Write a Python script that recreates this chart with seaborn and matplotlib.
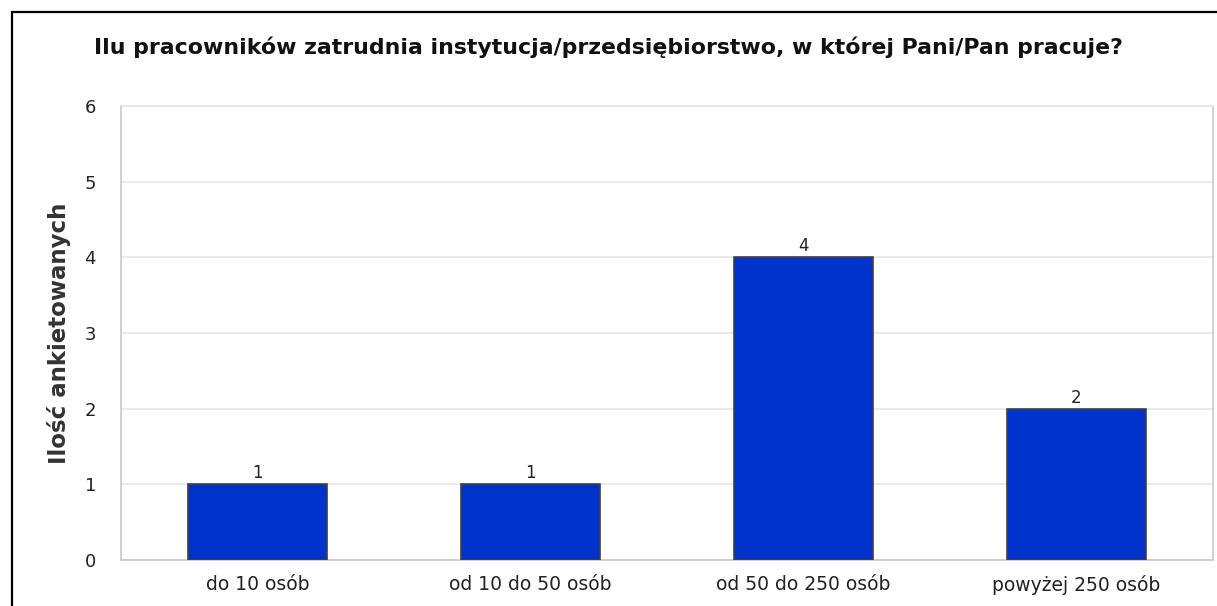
import numpy as np
import pandas as pd
import matplotlib
matplotlib.use("Agg")
import matplotlib.pyplot as plt
import seaborn as sns
from matplotlib.patches import Rectangle

categories = ["do 10 osób", "od 10 do 50 osób", "od 50 do 250 osób", "powyżej 250 osób"]
counts = [1, 1, 4, 2]
y_ticks = [0, 1, 2, 3, 4, 5, 6]

df = pd.DataFrame({"kategoria": categories, "ilosc": counts})

sns.set_theme(style="white")
plt.rcParams['font.family'] = ['DejaVu Sans']

fig = plt.figure(figsize=(12.17, 6.06), dpi=100)
ax = fig.add_axes([121 / 1217, 46 / 606, (1213 - 121) / 1217, (560 - 106) / 606])

sns.barplot(x="kategoria", y="ilosc", data=df, color="#0033CC", saturation=1,
            width=0.51, edgecolor="#404040", linewidth=1.2, ax=ax, zorder=3)

# value labels above bars
for p, v in zip(ax.patches, counts):
    ax.annotate(f'{v}', (p.get_x() + p.get_width() / 2., p.get_height()),
                ha='center', va='bottom', xytext=(0, 1.5),
                textcoords='offset points', fontsize=12, color='#222222')

ax.set_ylim(0, 6)
ax.set_xlim(-0.5, 3.5)
ax.set_yticks(y_ticks)
ax.yaxis.grid(True, color='#E6E6E6', linewidth=1.2, zorder=0)
ax.set_axisbelow(True)
ax.tick_params(axis='y', length=0, pad=18, labelsize=13, labelcolor='#222222')
ax.tick_params(axis='x', which='major', length=0, pad=11, labelsize=13.5, labelcolor='#222222')
ax.set_xticks([-0.5, 0.5, 1.5, 2.5, 3.5], minor=True)
ax.tick_params(axis='x', which='minor', length=8, width=1.2, color='#C8C8C8', direction='out')

for side in ['left', 'bottom', 'right', 'top']:
    ax.spines[side].set_color('#C8C8C8')
    ax.spines[side].set_linewidth(1.2)
ax.spines['top'].set_color('#E6E6E6')

ax.set_xlabel('')
ax.set_ylabel('Ilość ankietowanych', fontsize=16.5, weight='bold', color='#333333', labelpad=10)

fig.text(0.5, 1 - 47 / 606, 'Ilu pracowników zatrudnia instytucja/przedsiębiorstwo, w której Pani/Pan pracuje?',
         ha='center', va='center', fontsize=15.8, weight='bold', color='#111111')

# outer frame
fig.patches.append(Rectangle((12 / 1217, -0.05), 1.2, 1 - 12 / 606 + 0.05, transform=fig.transFigure,
                             fill=False, edgecolor='black', linewidth=1.6))

fig.savefig('out.png', dpi=100)
